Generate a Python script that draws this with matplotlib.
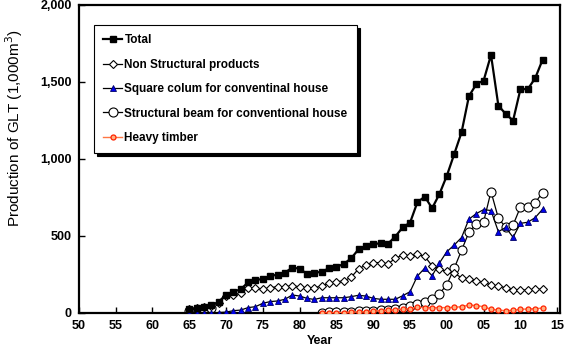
import matplotlib
matplotlib.use("Agg")
import matplotlib.pyplot as plt
import numpy as np

nan = np.nan

years = list(range(1965, 2014))

total = [25, 30, 38, 50, 72,
         120, 138, 154, 199, 214, 221, 240, 249, 262, 294,
         288, 253, 260, 268, 290, 299, 318, 355, 413, 435,
         448, 452, 450, 496, 556, 586, 719, 755, 680, 773,
         891, 1031, 1173, 1407, 1485, 1509, 1675, 1346, 1292, 1249,
         1453, 1453, 1524, 1643]

non_struct = [24, 30, 37, 48, 67,
              110, 117, 128, 164, 160, 154, 164, 171, 171, 175,
              171, 162, 164, 175, 193, 203, 208, 232, 286, 312,
              327, 327, 318, 355, 375, 372, 381, 368, 305, 284,
              270, 258, 229, 221, 210, 199, 182, 175, 164, 149,
              149, 149, 154, 154]

square_col = [0, 0, 0, 0, 3,
              6, 15, 19, 35, 41, 63, 74, 78, 89, 117,
              110, 95, 88, 99, 99, 99, 99, 106, 115, 110,
              95, 89, 89, 89, 112, 138, 240, 291, 242, 325,
              398, 441, 490, 609, 645, 671, 665, 528, 555, 491,
              582, 589, 619, 673]

beam = [15, 18, 25, 35, nan,
        nan, nan, nan, nan, nan, nan, nan, nan, nan, nan,
        nan, nan, nan, 3, 4, 5, 6, 8, 10, 13,
        16, 18, 22, 28, 35, 45, 58, 74, 90, 125,
        184, 290, 407, 524, 578, 593, 788, 615, 556, 571,
        688, 686, 716, 781]

heavy = [nan] * 18 + [0, 2, 2, 3, 5, 7, 9,
                      12, 15, 18, 21, 24, 29, 38, 35, 35, 35,
                      35, 37, 41, 52, 48, 41, 24, 19, 15, 17,
                      24, 26, 28, 32]

labels = ["Total", "Non Structural products", "Square colum for conventinal house",
          "Structural beam for conventional house", "Heavy timber"]

plt.rcParams['font.family'] = ['Liberation Sans', 'DejaVu Sans']

fig = plt.figure(figsize=(5.67, 3.47), dpi=100)
ax = fig.add_axes([0.139, 0.098, 0.849, 0.888])

ax.plot(years, total, color='black', lw=1.6, marker='s', ms=4.5,
        mfc='black', mec='black', label=labels[0], zorder=6)
ax.plot(years, non_struct, color='black', lw=0.9, marker='D', ms=4.2,
        mfc='white', mec='black', mew=0.8, label=labels[1], zorder=3)
ax.plot(years, square_col, color='black', lw=0.9, marker='^', ms=5,
        mfc='#0000ee', mec='#000066', mew=0.6, label=labels[2], zorder=4)
ax.plot(years, beam, color='black', lw=0.9, marker='o', ms=6.5,
        mfc='white', mec='black', mew=0.8, label=labels[3], zorder=2)
ax.plot(years, heavy, color='#ff7744', lw=1.0, marker='o', ms=3.6,
        mfc='#ffb080', mec='#ff2200', mew=0.9, label=labels[4], zorder=5)

ax.set_xlim(1950, 2015.4)
ax.set_ylim(0, 2000)
xt = list(range(1950, 2016, 5))
ax.set_xticks(xt)
ax.set_xticklabels(["%02d" % (y % 100) for y in xt], fontsize=9, fontweight='bold')
yt = [0, 500, 1000, 1500, 2000]
ax.set_yticks(yt)
ax.set_yticklabels(["{:,}".format(v) for v in yt], fontsize=9, fontweight='bold')
ax.tick_params(direction='in', length=4, width=1, pad=5)

for s in ax.spines.values():
    s.set_linewidth(1.6)

ax.set_xlabel("Year", fontsize=9, fontweight='bold', labelpad=2)
ax.set_ylabel("Production of GLT (1,000m$^3$)", fontsize=11)
ax.yaxis.set_label_coords(-0.112, 0.6)

leg = ax.legend(loc='upper left', bbox_to_anchor=(0.031, 0.935), borderaxespad=0,
                fancybox=False, edgecolor='black', framealpha=1,
                shadow={'color': 'black', 'alpha': 1},
                prop={'size': 8.5, 'weight': 'bold'}, handlelength=1.6,
                handletextpad=0.2, labelspacing=1.05, borderpad=0.8)
leg.get_frame().set_linewidth(0.8)

fig.savefig("out.png", dpi=100)
